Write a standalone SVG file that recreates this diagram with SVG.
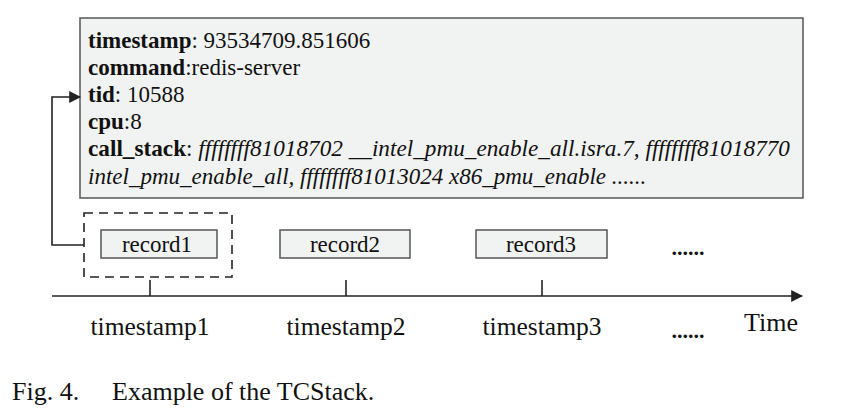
<svg xmlns="http://www.w3.org/2000/svg" width="852" height="416" viewBox="0 0 852 416">
<style>
text{font-family:"Liberation Serif","Times New Roman",serif;fill:#111}
.b{font-weight:bold}
.i{font-style:italic}
.t{font-size:23px}
.box{fill:#f1f3f2;stroke:#555;stroke-width:1.5}
.ln{stroke:#222;stroke-width:1.6;fill:none}
</style>
<defs>
<marker id="ah2" viewBox="0 0 10 10" refX="9" refY="5" markerWidth="12" markerHeight="12" markerUnits="userSpaceOnUse" orient="auto"><path d="M0,0 L10,5 L0,10 Z" fill="#222"/></marker>
</defs>
<g id="detail">
<rect class="box" x="80" y="18" width="723" height="180"/>
<text x="88" y="48" class="t"><tspan class="b">timestamp</tspan>: 93534709.851606</text>
<text x="88" y="75" class="t"><tspan class="b">command</tspan>:redis-server</text>
<text x="88" y="102" class="t"><tspan class="b">tid</tspan>: 10588</text>
<text x="88" y="129" class="t"><tspan class="b">cpu</tspan>:8</text>
<text x="88" y="156" class="t" textLength="702" lengthAdjust="spacingAndGlyphs"><tspan class="b">call_stack</tspan>: <tspan class="i">ffffffff81018702 __intel_pmu_enable_all.isra.7,  ffffffff81018770</tspan></text>
<text x="88" y="184" class="t i">intel_pmu_enable_all, ffffffff81013024 x86_pmu_enable ......</text>
</g>
<g id="connectors">
<path class="ln" d="M84,245 H52 V97 H80" marker-end="url(#ah2)"/>
<line class="ln" x1="52" y1="296" x2="802" y2="296" marker-end="url(#ah2)"/>
<line class="ln" x1="150" y1="280" x2="150" y2="296"/>
<line class="ln" x1="346" y1="280" x2="346" y2="296"/>
<line class="ln" x1="542" y1="280" x2="542" y2="296"/>
</g>
<g id="selection">
<rect x="84" y="213" width="148" height="64" fill="none" stroke="#222" stroke-width="1.6" stroke-dasharray="9,6"/>
</g>
<g id="record1"><rect class="box" x="101" y="230" width="116" height="28" stroke="#333"/><text x="157" y="252" font-size="23" text-anchor="middle">record1</text></g>
<g id="record2"><rect class="box" x="280" y="230" width="130" height="28" stroke="#333"/><text x="345" y="252" font-size="23" text-anchor="middle">record2</text></g>
<g id="record3"><rect class="box" x="476" y="230" width="131" height="28" stroke="#333"/><text x="541" y="252" font-size="23" text-anchor="middle">record3</text></g>
<text x="688" y="255" font-size="22" class="b" text-anchor="middle">......</text>
<text x="150" y="335" font-size="25.5" text-anchor="middle">timestamp1</text>
<text x="346" y="335" font-size="25.5" text-anchor="middle">timestamp2</text>
<text x="542" y="335" font-size="25.5" text-anchor="middle">timestamp3</text>
<text x="688" y="338" font-size="22" class="b" text-anchor="middle">......</text>
<text x="771" y="331" font-size="26" text-anchor="middle">Time</text>
<text x="12" y="400" font-size="26">Fig. 4.</text>
<text x="112" y="400" font-size="26">Example of the TCStack.</text>
</svg>
